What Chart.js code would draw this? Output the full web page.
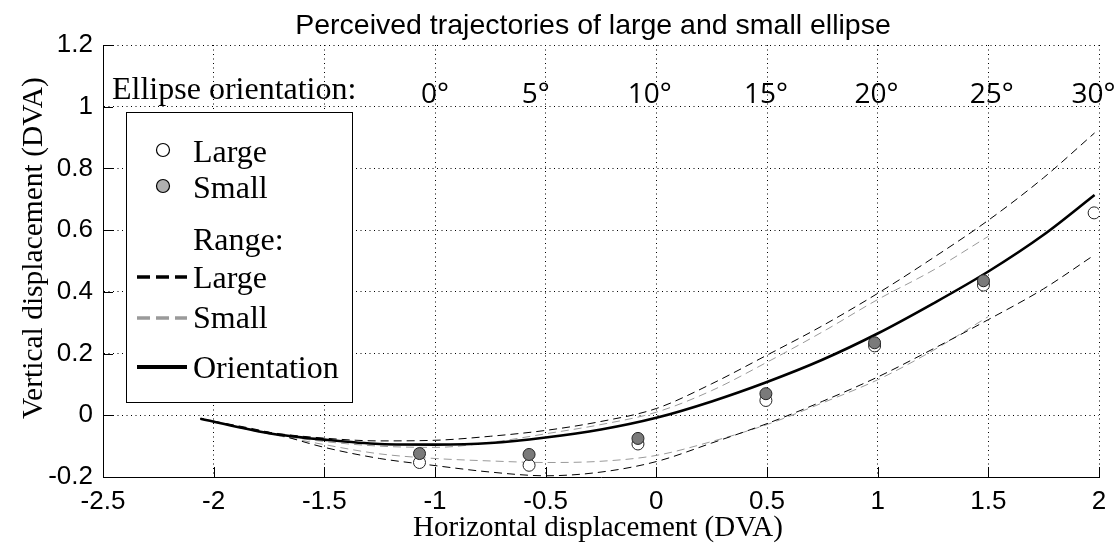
<!DOCTYPE html>
<html><head><meta charset="utf-8">
<script src="https://cdn.jsdelivr.net/npm/chart.js@4.4.0/dist/chart.umd.min.js"></script>
<style>html,body{margin:0;padding:0;background:#fff;}canvas{display:block;}</style>
</head><body>
<canvas id="c" width="1117" height="547"></canvas>
<script>
// ---------- data ----------
const chartTitle = 'Perceived trajectories of large and small ellipse';
const xAxisTitle = 'Horizontal displacement (DVA)';
const yAxisTitle = 'Vertical displacement (DVA)';
const xTicks = [-2.5, -2, -1.5, -1, -0.5, 0, 0.5, 1, 1.5, 2];
const xTickLabels = ['-2.5', '-2', '-1.5', '-1', '-0.5', '0', '0.5', '1', '1.5', '2'];
const yTicks = [-0.2, 0, 0.2, 0.4, 0.6, 0.8, 1, 1.2];
const yTickLabels = ['-0.2', '0', '0.2', '0.4', '0.6', '0.8', '1', '1.2'];
const orientationHeader = 'Ellipse orientation:';
const orientationLabels = ['0°', '5°', '10°', '15°', '20°', '25°', '30°'];
const orientationLabelX = [-1.0, -0.545, -0.03, 0.495, 0.995, 1.515, 1.975];

const pointX = [-1.07, -0.575, -0.083, 0.495, 0.986, 1.478, 1.978];
const largeY = [-0.153, -0.162, -0.093, 0.048, 0.225, 0.422, 0.656];
const smallY = [-0.124, -0.127, -0.075, 0.070, 0.235, 0.436, null];

const curveX       = [-2.06, -1.75, -1.5, -1.25, -1.0, -0.75, -0.5, -0.25, 0, 0.25, 0.5, 0.75, 1.0, 1.25, 1.5, 1.75, 1.98];
const orientationY = [-0.011, -0.058, -0.079, -0.093, -0.095, -0.090, -0.072, -0.046, -0.008, 0.045, 0.108, 0.180, 0.265, 0.362, 0.466, 0.585, 0.714];
const largeUpperY  = [-0.011, -0.055, -0.074, -0.083, -0.081, -0.068, -0.049, -0.020, 0.022, 0.102, 0.195, 0.290, 0.395, 0.510, 0.632, 0.770, 0.915];
const largeLowerY  = [-0.011, -0.055, -0.104, -0.140, -0.163, -0.184, -0.196, -0.184, -0.150, -0.090, -0.027, 0.045, 0.124, 0.215, 0.310, 0.410, 0.520];
const smallUpperY  = [-0.011, -0.060, -0.085, -0.100, -0.104, -0.088, -0.060, -0.030, 0.010, 0.080, 0.172, 0.270, 0.375, 0.470, 0.580, null, null];
const smallLowerY  = [-0.011, -0.060, -0.095, -0.125, -0.140, -0.148, -0.153, -0.149, -0.130, -0.085, -0.030, 0.040, 0.115, 0.210, 0.320, null, null];

const legendMarkerLabels = ['Large', 'Small'];
const legendRangeHeader = 'Range:';
const legendLineLabels = ['Large', 'Small', 'Orientation'];

// ---------- helpers ----------
function pts(xs, ys) {
  const out = [];
  for (let i = 0; i < xs.length; i++) if (ys[i] !== null && ys[i] !== undefined) out.push({x: xs[i], y: ys[i]});
  return out;
}
const SERIF = '"Liberation Serif", "Times New Roman", serif';
const SANS = '"Liberation Sans", Arial, sans-serif';
const DEG = '"Open Sans", "Liberation Sans", sans-serif';
const GRAY_DASH = '#9a9a9a';
const SMALL_FILL = '#7a7a7a';

const overlay = {
  id: 'overlay',
  afterDraw(chart) {
    const ctx = chart.ctx;
    const xs = chart.scales.x, ys = chart.scales.y;
    const a = chart.chartArea;
    ctx.save();
    // inward ticks
    ctx.strokeStyle = '#000'; ctx.lineWidth = 1; ctx.setLineDash([]);
    ctx.beginPath();
    xTicks.forEach(v => { const p = Math.round(xs.getPixelForValue(v)) + 0.5; ctx.moveTo(p, a.bottom); ctx.lineTo(p, a.bottom - 10); });
    yTicks.forEach(v => { const p = Math.round(ys.getPixelForValue(v)) + 0.5; ctx.moveTo(a.left, p); ctx.lineTo(a.left + 10, p); });
    ctx.stroke();

    ctx.fillStyle = '#000';
    // title
    ctx.font = '28.5px ' + SANS; ctx.textAlign = 'center'; ctx.textBaseline = 'alphabetic';
    ctx.fillText(chartTitle, 593, 34);
    // x axis title
    ctx.font = '29px ' + SERIF;
    ctx.fillText(xAxisTitle, 598, 536);
    // y axis title
    ctx.save();
    ctx.translate(42, 248); ctx.rotate(-Math.PI / 2);
    ctx.font = '29.5px ' + SERIF; ctx.textAlign = 'center';
    ctx.fillText(yAxisTitle, 0, 0);
    ctx.restore();

    // orientation labels
    ctx.font = '32px ' + SERIF; ctx.textAlign = 'left';
    ctx.fillText(orientationHeader, 112, 99);
    ctx.font = '28px ' + DEG; ctx.textAlign = 'center';
    orientationLabels.forEach((t, i) => ctx.fillText(t, xs.getPixelForValue(orientationLabelX[i]), 103));

    // legend box
    const bx = 126.5, by = 112.5, bw = 226, bh = 290;
    ctx.fillStyle = '#fff'; ctx.fillRect(bx, by, bw, bh);
    ctx.strokeStyle = '#000'; ctx.lineWidth = 1; ctx.strokeRect(bx, by, bw, bh);
    ctx.font = '32px ' + SERIF; ctx.textAlign = 'left'; ctx.fillStyle = '#000';
    const mRows = [{y: 150, fill: '#fff', base: 162}, {y: 186, fill: '#b0b0b0', base: 198}];
    mRows.forEach((r, i) => {
      ctx.beginPath(); ctx.arc(163, r.y, 6.5, 0, Math.PI * 2);
      ctx.fillStyle = r.fill; ctx.fill(); ctx.strokeStyle = '#000'; ctx.lineWidth = 1.2; ctx.stroke();
      ctx.fillStyle = '#000'; ctx.fillText(legendMarkerLabels[i], 193, r.base);
    });
    ctx.fillText(legendRangeHeader, 193, 250);
    const lRows = [
      {y: 277, color: '#000', dash: [13, 6], w: 3.5, base: 288},
      {y: 318, color: GRAY_DASH, dash: [13, 6], w: 3.5, base: 328},
      {y: 367, color: '#000', dash: [], w: 4, base: 378}
    ];
    lRows.forEach((r, i) => {
      ctx.beginPath(); ctx.setLineDash(r.dash); ctx.lineWidth = r.w; ctx.strokeStyle = r.color;
      ctx.moveTo(137, r.y); ctx.lineTo(187, r.y); ctx.stroke();
      ctx.setLineDash([]);
      ctx.fillStyle = '#000'; ctx.fillText(legendLineLabels[i], 193, r.base);
    });
    ctx.restore();
  }
};

const lineDefaults = {showLine: true, pointRadius: 0, pointHoverRadius: 0, fill: false, cubicInterpolationMode: 'monotone'};

new Chart(document.getElementById('c'), {
  type: 'scatter',
  data: {
    datasets: [
      {label: 'Small', data: pts(pointX, smallY), pointRadius: 6, pointBackgroundColor: SMALL_FILL, pointBorderColor: '#222', pointBorderWidth: 1, showLine: false},
      {label: 'Large', data: pts(pointX, largeY), pointRadius: 6, pointBackgroundColor: '#fff', pointBorderColor: '#222', pointBorderWidth: 1, showLine: false},
      Object.assign({label: 'Orientation', data: pts(curveX, orientationY), borderColor: '#000', borderWidth: 2.6}, lineDefaults),
      Object.assign({label: 'Large upper', data: pts(curveX, largeUpperY), borderColor: '#000', borderWidth: 1, borderDash: [8, 5]}, lineDefaults),
      Object.assign({label: 'Large lower', data: pts(curveX, largeLowerY), borderColor: '#000', borderWidth: 1, borderDash: [8, 5]}, lineDefaults),
      Object.assign({label: 'Small upper', data: pts(curveX, smallUpperY), borderColor: GRAY_DASH, borderWidth: 1, borderDash: [8, 5]}, lineDefaults),
      Object.assign({label: 'Small lower', data: pts(curveX, smallLowerY), borderColor: GRAY_DASH, borderWidth: 1, borderDash: [8, 5]}, lineDefaults)
    ]
  },
  options: {
    responsive: false, animation: false, devicePixelRatio: 1,
    layout: {padding: {top: 45, right: 18, left: 0, bottom: 0}},
    plugins: {legend: {display: false}, tooltip: {enabled: false}, title: {display: false}},
    scales: {
      x: {
        type: 'linear', min: -2.5, max: 2,
        afterBuildTicks: s => { s.ticks = xTicks.map(v => ({value: v})); },
        afterFit: s => { s.height = 70; },
        grid: {color: '#000', lineWidth: 1, drawTicks: false},
        border: {display: true, color: '#000', width: 1, dash: [1, 3.5]},
        ticks: {padding: 9, color: '#000', font: {family: SANS, size: 26}, maxRotation: 0, autoSkip: false,
          callback: (v, i) => xTickLabels[i]}
      },
      y: {
        type: 'linear', min: -0.2, max: 1.2,
        afterBuildTicks: s => { s.ticks = yTicks.map(v => ({value: v})); },
        afterFit: s => { s.width = 103; },
        grid: {color: '#000', lineWidth: 1, drawTicks: false},
        border: {display: true, color: '#000', width: 1, dash: [1, 3.5]},
        ticks: {padding: 10, color: '#000', font: {family: SANS, size: 26}, autoSkip: false,
          callback: (v, i) => yTickLabels[i]}
      }
    }
  },
  plugins: [overlay]
});
</script>
</body></html>
